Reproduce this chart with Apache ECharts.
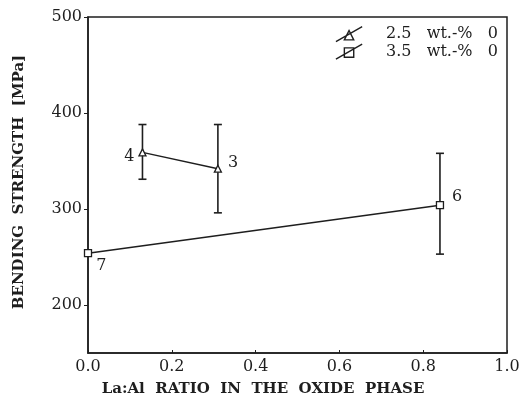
<!DOCTYPE html>
<html>
<head>
<meta charset="utf-8">
<script src="https://cdn.jsdelivr.net/npm/echarts@6/dist/echarts.min.js"></script>
<style>
  html, body { margin: 0; padding: 0; background: #fff; }
  #chart { width: 527px; height: 400px; }
</style>
</head>
<body>
<div id="chart"></div>
<script>
// Bending strength versus La:Al ratio in the oxide phase
const xTicks = [0.0, 0.2, 0.4, 0.6, 0.8, 1.0];
const yTicks = [200, 300, 400, 500];

// 2.5 wt.-% O samples
const ratio25 = [0.13, 0.31];
const strength25 = [359, 342];
const lower25 = [331, 296];
const upper25 = [388, 388];
const tags25 = ['4', '3'];

// 3.5 wt.-% O samples
const ratio35 = [0.0, 0.84];
const strength35 = [254, 304];
const lower35 = [null, 253];
const upper35 = [null, 358];
const tags35 = ['7', '6'];

const seriesNames = ['2.5   wt.-%   0', '3.5   wt.-%   0'];

const INK = '#1e1e1e';
const SERIF = '"DejaVu Serif", "Liberation Serif", serif';

// legend keys: marker crossed by a slanted stroke
const legendIcons = [
  'path://M0,18 L28,2 M9,16 L14,6 L19,16 Z',
  'path://M0,18 L28,2 M9,16 L9,6 L19,6 L19,16 Z'
];

// label placement per point tag
const tagPlacement = {
  '4': { position: 'left', offset: [0, 4] },
  '3': { position: 'right', offset: [2, -6] },
  '6': { position: 'right', offset: [4, -8] },
  '7': { position: 'right', offset: [0, 13] }
};

function points(xs, ys, tags) {
  return xs.map((x, i) => ({
    value: [x, ys[i]],
    label: Object.assign({ show: true, formatter: tags[i] }, tagPlacement[tags[i]])
  }));
}

function bars(xs, lo, hi) {
  const out = [];
  xs.forEach((x, i) => {
    if (lo[i] != null && hi[i] != null) out.push([x, lo[i], hi[i]]);
  });
  return out;
}

function renderBar(params, api) {
  const x = api.value(0);
  const lo = api.coord([x, api.value(1)]);
  const hi = api.coord([x, api.value(2)]);
  const cap = 4;
  const style = { stroke: INK, lineWidth: 1.6 };
  return {
    type: 'group',
    children: [
      { type: 'line', shape: { x1: lo[0], y1: lo[1], x2: hi[0], y2: hi[1] }, style },
      { type: 'line', shape: { x1: hi[0] - cap, y1: hi[1], x2: hi[0] + cap, y2: hi[1] }, style },
      { type: 'line', shape: { x1: lo[0] - cap, y1: lo[1], x2: lo[0] + cap, y2: lo[1] }, style }
    ]
  };
}

const chart = echarts.init(document.getElementById('chart'), null, { renderer: 'canvas' });

chart.setOption({
  backgroundColor: '#ffffff',
  animation: false,
  grid: {
    left: 88, right: 20, top: 17, bottom: 47,
    show: true, borderColor: INK, borderWidth: 1.5, backgroundColor: 'transparent'
  },
  legend: {
    right: 24, top: 21,
    orient: 'vertical',
    itemGap: 1,
    itemWidth: 28, itemHeight: 15,
    itemStyle: { color: '#fff', borderColor: INK, borderWidth: 1.4 },
    lineStyle: { width: 0 },
    textStyle: { fontFamily: SERIF, fontSize: 16, color: INK, padding: [0, 0, 0, 18] },
    data: seriesNames.map((name, i) => ({ name, icon: legendIcons[i] }))
  },
  xAxis: {
    type: 'value',
    min: 0, max: 1, interval: 0.2,
    splitLine: { show: false },
    axisLine: { lineStyle: { color: INK, width: 1.5 } },
    axisTick: { show: true, inside: true, length: 3, lineStyle: { color: INK } },
    axisLabel: {
      color: INK, fontFamily: SERIF, fontSize: 16, margin: 6,
      formatter: v => v.toFixed(1)
    }
  },
  yAxis: {
    type: 'value',
    min: 150, max: 500,
    splitLine: { show: false },
    axisLine: { lineStyle: { color: INK, width: 1.5 } },
    axisTick: { show: true, length: 4, customValues: yTicks, lineStyle: { color: INK } },
    axisLabel: { color: INK, fontFamily: SERIF, fontSize: 16, margin: 6, customValues: yTicks }
  },
  graphic: [
    {
      type: 'text', x: 19, y: 182, rotation: Math.PI / 2,
      style: {
        text: 'BENDING  STRENGTH  [MPa]', fill: INK,
        font: 'bold 15px ' + SERIF, align: 'center', verticalAlign: 'middle'
      }
    },
    {
      type: 'text', x: 263, y: 389,
      style: {
        text: 'La:Al  RATIO  IN  THE  OXIDE  PHASE', fill: INK,
        font: 'bold 15px ' + SERIF, align: 'center', verticalAlign: 'middle'
      }
    }
  ],
  series: [
    {
      name: seriesNames[0], type: 'line',
      data: points(ratio25, strength25, tags25),
      symbol: 'triangle', symbolSize: 7,
      itemStyle: { color: '#fff', borderColor: INK, borderWidth: 1.3 },
      lineStyle: { color: INK, width: 1.5 },
      label: { color: INK, fontFamily: SERIF, fontSize: 16, distance: 4 },
      z: 3
    },
    {
      name: seriesNames[1], type: 'line',
      data: points(ratio35, strength35, tags35),
      symbol: 'rect', symbolSize: 7,
      itemStyle: { color: '#fff', borderColor: INK, borderWidth: 1.3 },
      lineStyle: { color: INK, width: 1.5 },
      label: { color: INK, fontFamily: SERIF, fontSize: 16, distance: 4 },
      z: 3
    },
    {
      type: 'custom', name: 'err25', renderItem: renderBar,
      data: bars(ratio25, lower25, upper25), z: 2, silent: true
    },
    {
      type: 'custom', name: 'err35', renderItem: renderBar,
      data: bars(ratio35, lower35, upper35), z: 2, silent: true
    }
  ]
});
</script>
</body>
</html>
